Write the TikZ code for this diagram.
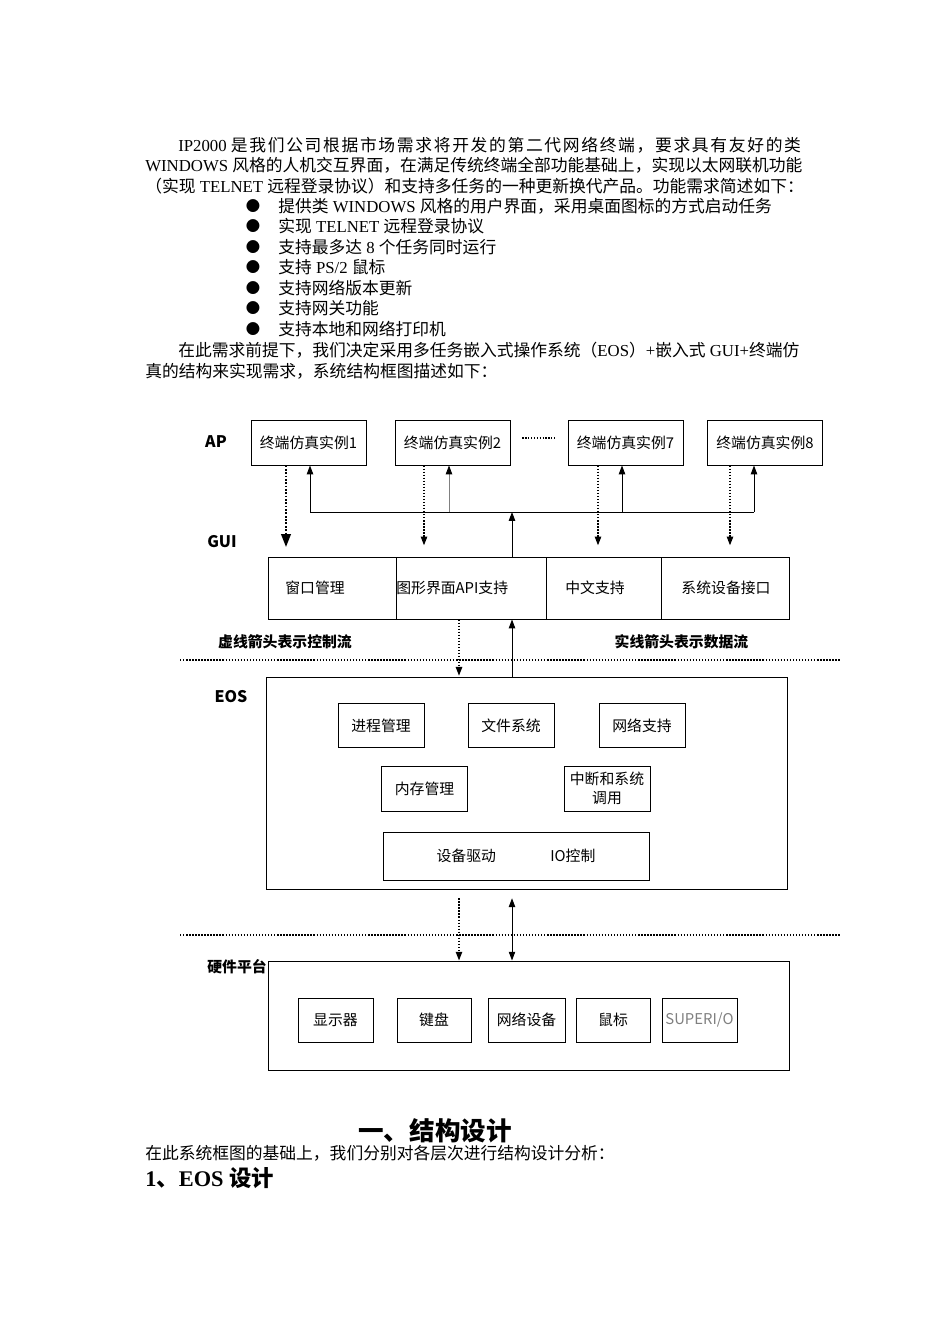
\documentclass[tikz,border=0pt]{standalone}
\usepackage{fontspec}
\setmainfont{Liberation Serif}
\newfontfamily\cjk{Noto Sans CJK SC}
\newfontfamily\cjkwide[LetterSpace=10]{Noto Sans CJK SC}
\usetikzlibrary{arrows.meta}

\newcommand{\zh}[1]{{\cjk #1}}
\newcommand{\pxu}{0.6263pt}
\newcommand{\bodysize}{\fontsize{10.5}{12.6}\selectfont}
\newcommand{\lblsize}{\fontsize{9.3}{11.5}\selectfont}

\tikzset{
  txt/.style={anchor=west, inner sep=0pt, font=\bodysize},
  lbl/.style={inner sep=0pt, font=\lblsize\cjk},
  layer/.style={inner sep=0pt, font=\fontsize{10}{12}\selectfont\cjk\bfseries},
  modbox/.style={draw, line width=0.6pt, inner sep=0pt, font=\lblsize\cjk},
  apbox/.style={modbox, minimum width=115*\pxu, minimum height=45*\pxu},
  guibox/.style={modbox, minimum height=62*\pxu},
  eosbox/.style={modbox, minimum width=86*\pxu, minimum height=44*\pxu},
  hwbox/.style={modbox, minimum width=75*\pxu, minimum height=44*\pxu},
  ctrl/.style={densely dotted, line width=0.9pt, -{Triangle[length=5.5pt,width=4pt]}},
  data/.style={line width=0.6pt, -{Triangle[length=5.5pt,width=4pt]}},
  sepline/.style={densely dotted, line width=0.9pt},
}

\begin{document}
\begin{tikzpicture}[x=0.6263pt, y=-0.6263pt]
\path[fill=white, use as bounding box] (0,0) rectangle (950,1344);

% requirement text
\node[txt] (l1) at (178,145) {IP2000 {\cjkwide 是我们公司根据市场需求将开发的第二代网络终端，要求具有友好的类}};
\node[txt] (l2) at (145,165) {WINDOWS \zh{风格的人机交互界面，在满足传统终端全部功能基础上，实现以太网联机功能}};
\node[txt] (l3) at (145,186) {\zh{（实现} TELNET \zh{远程登录协议）和支持多任务的一种更新换代产品。功能需求简述如下：}};
\foreach \t [count=\i] in {{\zh{提供类} WINDOWS \zh{风格的用户界面，采用桌面图标的方式启动任务}},
    {\zh{实现} TELNET \zh{远程登录协议}},
    {\zh{支持最多达} 8 \zh{个任务同时运行}},
    {\zh{支持} PS/2 \zh{鼠标}},
    {\zh{支持网络版本更新}},
    {\zh{支持网关功能}},
    {\zh{支持本地和网络打印机}}}{
  \node[inner sep=0pt, font=\fontsize{9}{10}\selectfont\cjk] (b\i) at (253,{185.5+20.5*\i}) {●};
  \node[txt] (it\i) at (278,{185.5+20.5*\i}) {\t};
}
\node[txt] (l4) at (178,350) {\zh{在此需求前提下，我们决定采用多任务嵌入式操作系统（}EOS\zh{）}+\zh{嵌入式} GUI+\zh{终端仿}};
\node[txt] (l5) at (145,371) {\zh{真的结构来实现需求，系统结构框图描述如下：}};

% AP layer
\node[layer] (lap) at (216,442) {AP};
\node[apbox] (ap1) at (308.5,442.5) {终端仿真实例1};
\node[apbox] (ap2) at (452.5,442.5) {终端仿真实例2};
\node[apbox] (ap7) at (625.5,442.5) {终端仿真实例7};
\node[apbox] (ap8) at (765,442.5) {终端仿真实例8};
\draw[densely dotted, line width=0.8pt, shorten <=7.5pt, shorten >=7.5pt] ([yshift=2.8pt]ap2.east) -- ([yshift=2.8pt]ap7.west);

% GUI layer
\node[layer] (lgui) at (222,542) {GUI};
\node[guibox, minimum width=128*\pxu] (gw1) at (332,588) {};
\node[guibox, minimum width=150*\pxu] (gw2) at (471,588) {};
\node[guibox, minimum width=115*\pxu] (gw3) at (603.5,588) {};
\node[guibox, minimum width=128*\pxu] (gw4) at (725,588) {};
\node[lbl] (tw1) at (315,588) {窗口管理};
\node[lbl, anchor=west] (tw2) at (396,588) {图形界面API支持};
\node[lbl] (tw3) at (595,588) {中文支持};
\node[lbl] (tw4) at (726,588) {系统设备接口};

% data bus up to AP
\coordinate (t1) at (310,512);
\coordinate (t2) at (449,512);
\coordinate (tm) at (512,512);
\coordinate (t7) at (622,512);
\coordinate (t8) at (754,512);
\draw[line width=0.6pt] (t1) -- (t8);
\draw[data] (t1) -- (t1 |- ap1.south);
\draw[line width=0.5pt, draw=gray, -{Triangle[length=5.5pt,width=4pt,black]}] (t2) -- (t2 |- ap2.south);
\draw[data] (t7) -- (t7 |- ap7.south);
\draw[data] (t8) -- (t8 |- ap8.south);
\draw[data] (gw2.north -| tm) -- (tm);

% control down to GUI
\draw[ctrl, line width=1.1pt, -{Triangle[length=8pt,width=6pt]}, shorten >=6pt] (ap1.south -| 286,0) -- (gw1.north -| 286,0);
\draw[ctrl, shorten >=7pt] (ap2.south -| 424,0) -- (gw2.north -| 424,0);
\draw[ctrl, shorten >=7pt] (ap7.south -| 598,0) -- (gw3.north -| 598,0);
\draw[ctrl, shorten >=7pt] (ap8.south -| 730,0) -- (gw4.north -| 730,0);

\node[lbl, font=\lblsize\cjk\bfseries] (note1) at (285,642) {虚线箭头表示控制流};
\node[lbl, font=\lblsize\cjk\bfseries] (note2) at (681.5,642) {实线箭头表示数据流};
\coordinate (s1l) at (180,660);
\coordinate (s1r) at (841,660);
\draw[sepline] (s1l) -- (s1r);

% EOS layer
\node[layer] (leos) at (231,697) {EOS};
\node[modbox, minimum width=521*\pxu, minimum height=212*\pxu] (eos) at (526.5,783) {};
\node[eosbox] (proc) at (381,725.5) {进程管理};
\node[eosbox] (fs) at (511,725.5) {文件系统};
\node[eosbox] (net) at (642,725.5) {网络支持};
\node[eosbox, minimum height=45*\pxu] (mem) at (424.5,788.5) {内存管理};
\node[eosbox, minimum height=45*\pxu, align=center] (irq) at (607,788.5) {中断和系统\\调用};
\node[modbox, minimum width=266*\pxu, minimum height=48*\pxu] (drv) at (516,856) {设备驱动\hspace{34pt}IO控制};

\draw[ctrl, shorten >=0.5pt] (gw2.south -| 459,0) -- (eos.north -| 459,0);
\draw[data] (eos.north -| tm) -- (gw2.south -| tm);

% hardware layer
\coordinate (s2l) at (180,935);
\coordinate (s2r) at (841,935);
\draw[sepline] (s2l) -- (s2r);
\node[lbl, font=\lblsize\cjk\bfseries] (lhw) at (237,967) {硬件平台};
\node[modbox, minimum width=521*\pxu, minimum height=109*\pxu] (hw) at (528.5,1015.5) {};
\draw[line width=0.6pt, {Triangle[length=5.5pt,width=4pt]}-{Triangle[length=5.5pt,width=4pt]}, shorten <=5.5pt] (eos.south -| tm) -- (hw.north -| tm);
\draw[ctrl, shorten <=5.5pt] (eos.south -| 459,0) -- (hw.north -| 459,0);
\node[hwbox] (disp) at (335.5,1020) {显示器};
\node[hwbox, minimum width=74*\pxu] (kbd) at (434,1020) {键盘};
\node[hwbox, minimum width=77*\pxu] (nic) at (526.5,1020) {网络设备};
\node[hwbox, minimum width=74*\pxu] (mouse) at (613,1020) {鼠标};
\node[hwbox, text=gray] (sio) at (699.5,1020) {SUPERI/O};

% section headings
\node[inner sep=0pt, font=\fontsize{16}{19}\selectfont\cjk\bfseries] (sec) at (435,1131) {一、结构设计};
\node[txt] (secl) at (145,1153) {\zh{在此系统框图的基础上，我们分别对各层次进行结构设计分析：}};
\node[txt, font=\fontsize{14}{17}\selectfont\bfseries] (sub) at (145,1178) {1\zh{、}EOS \zh{设计}};
\end{tikzpicture}
\end{document}
